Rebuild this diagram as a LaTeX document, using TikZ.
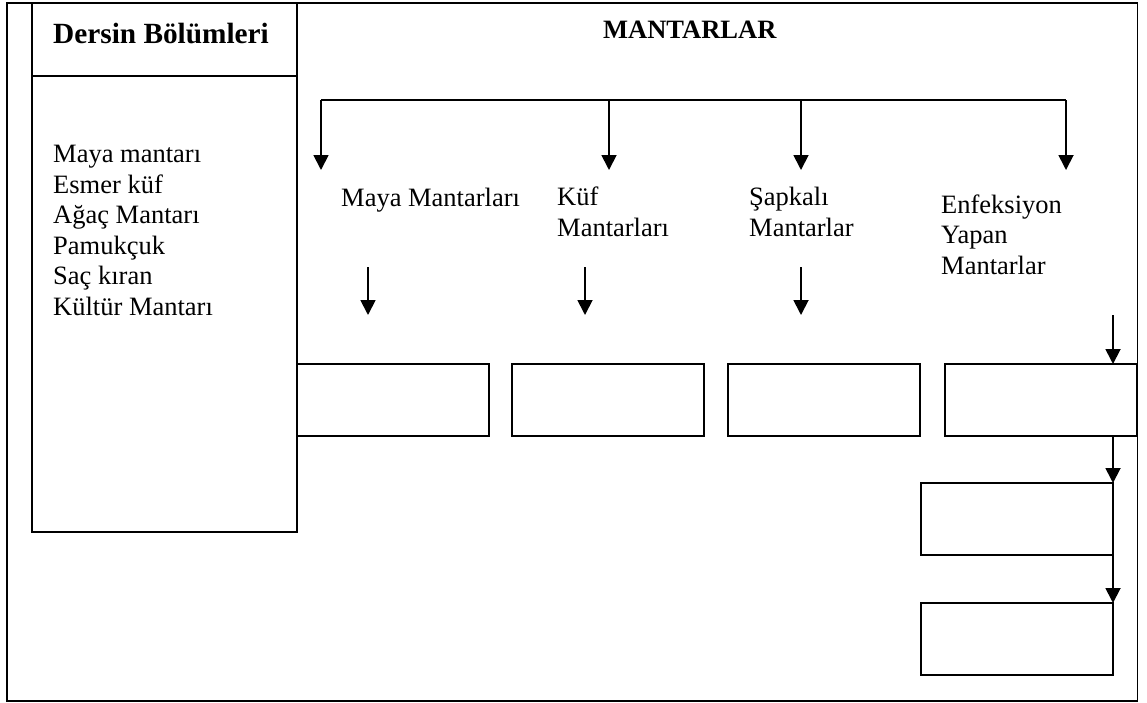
\documentclass[tikz,border=0pt]{standalone}
\usepackage{fontspec}
\setmainfont{Liberation Serif}
\usetikzlibrary{arrows.meta}
\begin{document}
\begin{tikzpicture}[x=1pt,y=-1pt,
  frame/.style={draw,line width=1.6pt,anchor=north west,inner sep=0pt,outer sep=0pt},
  cell/.style={draw,line width=2pt,anchor=north west,inner sep=0pt,outer sep=0pt,
    minimum width=192pt,minimum height=72pt},
  body/.style={anchor=base west,inner sep=0pt,align=left,
    font=\fontsize{26.5}{30.5}\selectfont},
  head/.style={anchor=base west,inner sep=0pt,font=\bfseries\fontsize{26.5}{30.5}\selectfont},
  link/.style={line width=1.8pt},
  arr/.style={line width=1.8pt,-{Triangle[width=15pt,length=15pt]}}]

\useasboundingbox (0,0) rectangle (1147,702);

% outer frame
\node[frame,minimum width=1130.5pt,minimum height=698pt] (outer) at (7,3) {};

% left column: header and contents
\node[frame,line width=2pt,minimum width=265pt,minimum height=73pt] (hd) at (32,3) {};
\node[frame,line width=2pt,minimum width=265pt,minimum height=456pt] (bd) at (32,76) {};
\node[anchor=base west,inner sep=0pt,font=\bfseries\fontsize{29.3}{34}\selectfont] (title) at (53,43) {Dersin Bölümleri};
% multi-line texts are anchored at the baseline of their last line
\node[body] (list) at (53,315) {Maya mantarı\\Esmer küf\\Ağaç Mantarı\\Pamukçuk\\Saç kıran\\Kültür Mantarı};

% heading
\node[head] (top) at (603,38) {MANTARLAR};

% distribution bar
\coordinate (bL) at (321,100);
\coordinate (bA) at (609,100);
\coordinate (bB) at (801,100);
\coordinate (bR) at (1066,100);
\coordinate (t1) at (321,170);
\coordinate (t2) at (609,170);
\coordinate (t3) at (801,170);
\coordinate (t4) at (1066,170);
\draw[link] (bL) -- (bR);
\draw[arr] (bL) -- (t1);
\draw[arr] (bA) -- (t2);
\draw[arr] (bB) -- (t3);
\draw[arr] (bR) -- (t4);

% group labels
\node[body] (g1) at (341,206) {Maya Mantarları};
\node[body] (g2) at (557,236) {Küf\\Mantarları};
\node[body] (g3) at (749,236) {Şapkalı\\Mantarlar};
\node[body] (g4) at (941,274) {Enfeksiyon\\Yapan\\Mantarlar};

% short arrows under the labels
\coordinate (s1) at (368,267);
\coordinate (e1) at (368,315);
\coordinate (s2) at (585,267);
\coordinate (e2) at (585,315);
\coordinate (s3) at (801,267);
\coordinate (e3) at (801,315);
\draw[arr] (s1) -- (e1);
\draw[arr] (s2) -- (e2);
\draw[arr] (s3) -- (e3);

% empty boxes
\node[cell] (b1) at (297,364) {};
\node[cell] (b2) at (512,364) {};
\node[cell] (b3) at (728,364) {};
\node[cell] (b4) at (945,364) {};
\node[cell] (b5) at (921,483) {};
\node[cell] (b6) at (921,603) {};

% chain on the right
\coordinate (s4) at (1113,315);
\coordinate (cx) at (1113,0);
\draw[arr] (s4) -- (s4 |- b4.north);
\draw[arr] (b4.south -| cx) -- (b5.north east);
\draw[arr] (b5.south east) -- (b6.north east);
\end{tikzpicture}
\end{document}
